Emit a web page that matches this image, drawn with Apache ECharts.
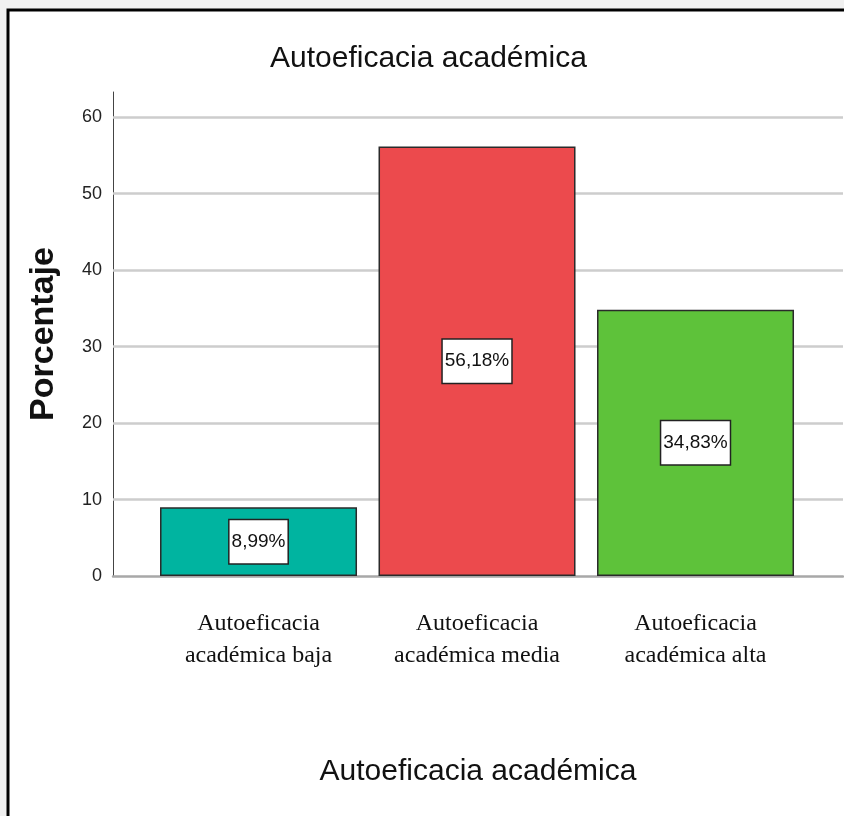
<!DOCTYPE html>
<html>
<head>
<meta charset="utf-8">
<script src="https://cdn.jsdelivr.net/npm/echarts@6/dist/echarts.min.js"></script>
<style>
  html, body { margin: 0; padding: 0; background: #f0f0f0; }
  #main { width: 844px; height: 816px; }
</style>
</head>
<body>
<div id="main"></div>
<script>
var categories = [
  'Autoeficacia\nacadémica baja',
  'Autoeficacia\nacadémica media',
  'Autoeficacia\nacadémica alta'
];
var percents = [8.99, 56.18, 34.83];
var barColors = ['#00b4a0', '#ec4a4d', '#5ec23a'];
var yTicks = [10, 20, 30, 40, 50, 60];

var sans = '"Liberation Sans", Arial, sans-serif';

var myChart = echarts.init(document.getElementById('main'));
var option = {
  backgroundColor: 'transparent',
  animation: false,
  graphic: [{
    type: 'rect',
    z: -10,
    silent: true,
    shape: { x: 8, y: 10, width: 900, height: 900 },
    style: { fill: '#fff', stroke: '#000', lineWidth: 3 }
  }],
  title: {
    text: 'Autoeficacia académica',
    left: 270,
    top: 44,
    padding: 0,
    textStyle: { fontFamily: sans, fontSize: 30, fontWeight: 'normal', color: '#111' }
  },
  grid: { left: 113, right: 1, top: 92, bottom: 240 },
  xAxis: {
    type: 'value',
    min: -0.666,
    max: 2.675,
    name: 'Autoeficacia académica',
    nameLocation: 'middle',
    nameGap: 181,
    nameTextStyle: { fontFamily: sans, fontSize: 30, color: '#111' },
    axisLine: { onZero: false, lineStyle: { color: '#a8a8a8', width: 2.5 } },
    axisTick: { show: false },
    splitLine: { show: false },
    axisLabel: {
      customValues: [0, 1, 2],
      formatter: function (v) { return categories[Math.round(v)]; },
      margin: 32,
      fontFamily: '"Liberation Serif", "Times New Roman", serif',
      fontSize: 24,
      lineHeight: 32,
      color: '#111'
    }
  },
  yAxis: {
    type: 'value',
    min: 0,
    max: 63.3,
    interval: 10,
    name: 'Porcentaje',
    nameLocation: 'middle',
    nameGap: 52,
    nameTextStyle: { fontFamily: sans, fontSize: 34, fontWeight: 'bold', color: '#111' },
    axisLine: { show: true, onZero: false, lineStyle: { color: '#444', width: 1 } },
    axisTick: { show: false },
    splitLine: { show: false },
    axisLabel: {
      showMaxLabel: false,
      margin: 11,
      fontFamily: sans,
      fontSize: 18,
      color: '#222'
    }
  },
  series: [{
    type: 'bar',
    barWidth: 197,
    z: 3,
    data: percents.map(function (v, i) {
      return { value: [i, v], itemStyle: { color: barColors[i] } };
    }),
    itemStyle: { borderColor: '#2a2a2a', borderWidth: 1.5 },
    label: {
      show: true,
      position: 'inside',
      formatter: function (p) { return p.value[1].toFixed(2).replace('.', ',') + '%'; },
      fontFamily: sans,
      fontSize: 19,
      color: '#111',
      backgroundColor: '#fff',
      borderColor: '#222',
      borderWidth: 1.5,
      padding: [13, 2, 11, 2]
    },
    markLine: {
      silent: true,
      z: 1,
      symbol: 'none',
      label: { show: false },
      lineStyle: { color: '#cdcdcd', width: 2.5, type: 'solid' },
      data: yTicks.map(function (t) { return { yAxis: t }; })
    }
  }]
};
myChart.setOption(option);
</script>
</body>
</html>
